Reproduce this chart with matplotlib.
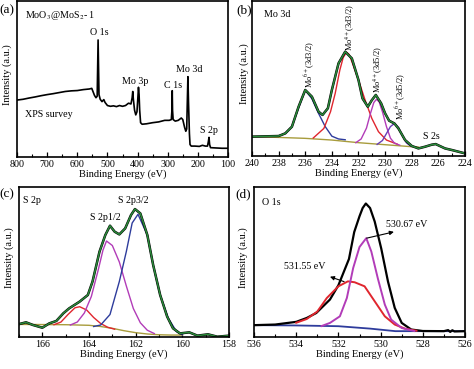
import numpy as np
import matplotlib
matplotlib.use('Agg')
import matplotlib.pyplot as plt
from matplotlib.ticker import MultipleLocator

plt.rcParams['font.family'] = ['Liberation Serif', 'DejaVu Serif']
plt.rcParams['mathtext.fontset'] = 'stix'

# (a) survey spectrum
survey_ev = [800, 780, 760, 740, 720, 700, 680, 660, 640, 620, 600, 580, 560, 552, 548, 543, 538, 534,
             531, 528, 524, 518, 512, 508, 500, 490, 480, 470, 460, 450, 440, 430, 422, 418, 416, 414,
             410, 406, 402, 399, 397, 395, 393, 390, 385, 370, 350, 330, 310, 295, 288, 286, 285, 284,
             282, 275, 265, 255, 250, 244, 240, 237, 235, 233, 231, 228, 226, 222, 210, 195, 185, 175,
             168, 165, 163, 161, 158, 140, 120, 100]
survey_int = [36.5, 37.0, 37.8, 38.5, 39.3, 40.0, 40.6, 41.3, 42.0, 42.4, 42.6, 43.2, 43.6, 44.0, 42.0,
              39.5, 38.0, 39.0, 75.0, 40.0, 37.0, 35.5, 36.8, 35.0, 33.0, 32.5, 32.8, 32.3, 33.0, 32.5,
              33.0, 34.5, 34.0, 38.0, 42.0, 37.0, 30.0, 27.0, 29.0, 38.0, 44.7, 40.0, 30.0, 22.0, 21.0,
              21.3, 22.0, 22.5, 23.5, 23.5, 24.0, 30.0, 42.5, 30.0, 24.0, 23.0, 23.5, 25.0, 24.0, 19.0,
              16.5, 18.0, 35.0, 51.5, 35.0, 15.0, 8.0, 7.0, 7.0, 6.8, 7.5, 7.0, 7.0, 10.0, 12.6, 8.0,
              6.0, 5.8, 5.6, 5.6]

# (b) Mo 3d
mo_ev = [240, 238, 237.5, 237, 236.5, 236, 235.5, 235, 234.7, 234.3, 234, 233.5, 233, 232.5, 232,
         231.7, 231.3, 231, 230.7, 230.3, 230, 229.7, 229.3, 229, 228.5, 228, 227.5, 227, 226.5,
         226.2, 225.5, 225, 224.5, 224]
mo_int = [12.5, 12.9, 14.6, 18.9, 31.8, 42.6, 38.3, 28.6, 26.5, 30.8, 42.6, 59.8, 67.3, 63.0, 49.0,
          37.2, 31.8, 36.0, 39.4, 34.0, 27.5, 22.8, 21.0, 17.8, 10.3, 6.5, 4.9, 6.0, 7.3, 7.7, 4.9,
          3.9, 2.8, 1.7]
mo_bg_ev = [240, 238, 236, 234, 232, 230, 228, 227.5]
mo_bg = [12.5, 12.0, 11.4, 10.3, 8.6, 7.3, 6.0, 5.8]
mo6_32_ev = [238, 237.5, 237, 236.5, 236, 235.5, 235, 234.5, 234, 233.5, 233]
mo6_32 = [12.9, 14.6, 19.0, 31.0, 42.5, 37.0, 27.5, 19.0, 12.8, 11.0, 10.5]
mo4_32_ev = [235.4, 234.6, 234.1, 233.75, 233.4, 233.15, 232.9, 232.7, 232.5, 232.0, 231.5, 231.0,
             230.5, 229.9, 229.1]
mo4_32 = [11.6, 17.8, 28.6, 40.4, 55.5, 63.5, 67.0, 65.5, 61.0, 49.0, 36.0, 24.3, 15.7, 10.3, 7.7]
mo4_52_ev = [232.2, 231.8, 231.4, 231.1, 230.85, 230.65, 230.45, 230.2, 229.9, 229.6, 229.3, 228.9]
mo4_52 = [8.6, 11.0, 18.0, 27.5, 34.5, 36.6, 35.0, 28.5, 19.0, 11.5, 8.3, 7.0]
mo6_52_ev = [230.6, 230.2, 229.9, 229.6, 229.3, 229.0, 228.7, 228.4, 228.1]
mo6_52 = [7.5, 10.0, 14.5, 19.0, 21.0, 18.5, 13.0, 8.5, 6.5]

# (c) S 2p
s_ev = [167.05, 166.7, 166.4, 166.0, 165.7, 165.4, 165.1, 164.85, 164.4, 164.05, 163.85, 163.55,
        163.3, 163.1, 162.9, 162.7, 162.45, 162.2, 162.03, 161.8, 161.5, 161.25, 160.95, 160.65,
        160.4, 160.1, 159.7, 159.35, 158.9, 158.5, 158.0]
s_int = [8.4, 9.8, 8.0, 6.2, 9.1, 10.7, 15.8, 19.1, 23.6, 28.0, 36.9, 56.9, 68.0, 74.2, 70.2, 68.4,
         72.4, 81.3, 85.3, 82.4, 68.0, 48.0, 28.0, 13.6, 5.8, 2.4, 3.1, 0.9, 1.8, 0.2, 0.9]
s_bg_ev = [167, 165, 164, 163.5, 163, 162.5, 162, 161.5, 161, 160.5, 160]
s_bg = [8.4, 8.2, 7.8, 7.0, 5.8, 4.2, 2.9, 2.0, 1.5, 1.3, 1.3]
s_ox_ev = [165.5, 165.2, 164.9, 164.6, 164.4, 164.1, 163.8, 163.5, 163.2, 162.9]
s_ox = [8.2, 10.0, 15.0, 19.5, 20.2, 18.0, 13.0, 9.0, 6.5, 5.2]
s_p12_ev = [164.8, 164.5, 164.2, 163.9, 163.6, 163.4, 163.25, 163.0, 162.7, 162.4, 162.1, 161.8,
            161.5, 161.2]
s_p12 = [8.0, 10.0, 16.0, 27.0, 45.0, 58.0, 64.0, 61.0, 50.0, 34.0, 19.0, 9.5, 4.5, 2.3]
s_p32_ev = [163.8, 163.5, 163.1, 162.7, 162.4, 162.15, 161.9, 161.5, 161.25, 160.95, 160.6, 160.25,
            160.0]
s_p32 = [7.0, 8.0, 15.0, 37.0, 57.0, 76.0, 81.8, 68.0, 48.0, 28.0, 12.5, 3.6, 1.5]

# (d) O 1s
o_ev = [536, 535, 534, 533.5, 533.05, 532.4, 532.0, 531.5, 531.25, 531.0, 530.85, 530.7, 530.5,
        530.28, 529.97, 529.65, 529.33, 529.0, 528.55, 528, 527, 526.8, 526.7, 526.6, 526.5, 526]
o_int = [7.9, 8.3, 10.1, 12.7, 16.0, 25.0, 34.5, 52.0, 70.0, 80.5, 86.0, 89.0, 86.0, 77.0, 59.0,
         37.0, 19.4, 9.4, 5.0, 4.0, 3.9, 4.6, 3.4, 4.5, 3.7, 3.9]
o_bg_ev = [536, 534, 532, 530.5, 529.3, 528, 526]
o_bg = [7.9, 7.7, 7.2, 5.6, 3.9, 3.9, 3.9]
o_a_ev = [534, 533.5, 533, 532.55, 532, 531.55, 531.23, 530.76, 530.28, 529.8, 529.33, 528.85, 528.3]
o_a = [9.5, 12.0, 17.0, 26.0, 33.8, 37.1, 36.5, 33.8, 23.8, 13.8, 8.3, 5.6, 4.2]
o_b_ev = [532.8, 532.4, 531.93, 531.6, 531.3, 531.0, 530.68, 530.44, 530.13, 529.8, 529.5, 529.0,
          528.4]
o_b = [7.3, 9.4, 13.8, 26.0, 46.0, 60.0, 65.9, 57.0, 39.0, 21.6, 11.6, 6.0, 4.0]

green = '#2a8a3a'
blue = '#2e3c9c'
red = '#e0262e'
magenta = '#b23cb8'
violet = '#6a3fb8'
olive = '#a89c3c'

fig = plt.figure(figsize=(4.74, 3.69), dpi=100)
ax_a = fig.add_axes([0.0359, 0.5745, 0.4451, 0.4228])
ax_b = fig.add_axes([0.5316, 0.5772, 0.4494, 0.4200])
ax_c = fig.add_axes([0.0401, 0.0867, 0.4430, 0.4065])
ax_d = fig.add_axes([0.5359, 0.0867, 0.4451, 0.4065])

fs = 7.2


def style(ax, xlim, major, minor, ylabel_x):
    ax.set_xlim(*xlim)
    ax.set_ylim(0, 100)
    ax.set_yticks([])
    ax.xaxis.set_major_locator(MultipleLocator(major))
    ax.xaxis.set_minor_locator(MultipleLocator(minor))
    ax.tick_params(axis='x', which='both', direction='in', top=False, labelsize=fs, pad=2)
    ax.tick_params(axis='x', which='major', length=3.5, width=0.9)
    ax.tick_params(axis='x', which='minor', length=2, width=0.8)
    for s in ax.spines.values():
        s.set_linewidth(1.2)
    ax.set_xlabel('Binding Energy (eV)', fontsize=fs + 0.3, labelpad=0.5)
    ax.set_ylabel('Intensity (a.u.)', fontsize=fs + 0.3)
    ax.yaxis.set_label_coords(ylabel_x, 0.53)


# (a)
ax_a.plot(survey_ev, survey_int, color='k', lw=1.2)
style(ax_a, (800, 100), 100, 50, -0.024)
ax_a.text(0.038, 0.91, 'MoO$_3$@MoS$_2$- 1', transform=ax_a.transAxes, fontsize=fs, va='center')
ax_a.text(0.038, 0.27, 'XPS survey', transform=ax_a.transAxes, fontsize=fs, va='center')
ax_a.text(528, 80, 'O 1s', fontsize=fs, ha='center', va='center')
ax_a.text(408, 48.7, 'Mo 3p', fontsize=fs, ha='center', va='center')
ax_a.text(282, 46, 'C 1s', fontsize=fs, ha='center', va='center')
ax_a.text(229, 56.4, 'Mo 3d', fontsize=fs, ha='center', va='center')
ax_a.text(163, 17.3, 'S 2p', fontsize=fs, ha='center', va='center')

# (b)
ax_b.plot(mo_bg_ev, mo_bg, color=olive, lw=1.0)
ax_b.plot(mo6_32_ev, mo6_32, color=blue, lw=1.0)
ax_b.plot(mo4_32_ev, mo4_32, color=red, lw=1.0)
ax_b.plot(mo4_52_ev, mo4_52, color=magenta, lw=1.0)
ax_b.plot(mo6_52_ev, mo6_52, color=violet, lw=1.0)
ax_b.plot(mo_ev, mo_int, color='k', lw=1.8)
ax_b.plot(mo_ev, mo_int, color=green, lw=1.1)
style(ax_b, (240, 224), 2, 1, -0.014)
ax_b.text(0.056, 0.91, 'Mo 3d', transform=ax_b.transAxes, fontsize=fs, va='center')
ax_b.text(226.5, 12.9, 'S 2s', fontsize=fs, ha='center', va='center')
rfs = 6.0
ax_b.text(235.7, 44, 'Mo$^{6+}$(3d3/2)', fontsize=rfs, rotation=90, ha='center', va='bottom')
ax_b.text(232.6, 68.0, 'Mo$^{4+}$(3d3/2)', fontsize=rfs, rotation=90, ha='center', va='bottom')
ax_b.text(230.5, 40.4, 'Mo$^{4+}$(3d5/2)', fontsize=rfs, rotation=90, ha='center', va='bottom')
ax_b.text(228.9, 23.2, 'Mo$^{6+}$(3d5/2)', fontsize=rfs, rotation=90, ha='center', va='bottom')

# (c)
ax_c.plot(s_bg_ev, s_bg, color=olive, lw=1.0)
ax_c.plot(s_ox_ev, s_ox, color=red, lw=1.0)
ax_c.plot(s_p12_ev, s_p12, color=magenta, lw=1.0)
ax_c.plot(s_p32_ev, s_p32, color=blue, lw=1.0)
ax_c.plot(s_ev, s_int, color='k', lw=1.8)
ax_c.plot(s_ev, s_int, color=green, lw=1.1)
style(ax_c, (167, 158), 2, 1, -0.024)
ax_c.text(0.02, 0.907, 'S 2p', transform=ax_c.transAxes, fontsize=fs, va='center')
ax_c.text(163.29, 80, 'S 2p1/2', fontsize=fs, ha='center', va='center')
ax_c.text(162.1, 91.3, 'S 2p3/2', fontsize=fs, ha='center', va='center')

# (d)
ax_d.plot(o_bg_ev, o_bg, color=blue, lw=1.3)
ax_d.plot(o_ev, o_int, color='k', lw=1.6)
ax_d.plot(o_a_ev, o_a, color=red, lw=1.4)
ax_d.plot(o_b_ev, o_b, color=magenta, lw=1.4)
style(ax_d, (536, 526), 2, 1, -0.03)
ax_d.text(0.038, 0.9, 'O 1s', transform=ax_d.transAxes, fontsize=fs, va='center')
ax_d.text(528.75, 74.8, '530.67 eV', fontsize=fs, ha='center', va='center')
ax_d.text(533.58, 46.8, '531.55 eV', fontsize=fs, ha='center', va='center')
ax_d.annotate('', xy=(529.37, 70.1), xytext=(530.66, 65.9),
              arrowprops=dict(arrowstyle='-|>', color='k', lw=0.8, mutation_scale=6, shrinkA=0, shrinkB=0))
ax_d.annotate('', xy=(532.4, 40.2), xytext=(531.73, 36.9),
              arrowprops=dict(arrowstyle='-|>', color='k', lw=0.8, mutation_scale=6, shrinkA=0, shrinkB=0))

fig.text(0.015, 0.973, '(a)', fontsize=9.5, ha='center', va='center')
fig.text(0.515, 0.973, '(b)', fontsize=9.5, ha='center', va='center')
fig.text(0.015, 0.474, '(c)', fontsize=9.5, ha='center', va='center')
fig.text(0.513, 0.474, '(d)', fontsize=9.5, ha='center', va='center')

fig.savefig('out.png', dpi=100)
